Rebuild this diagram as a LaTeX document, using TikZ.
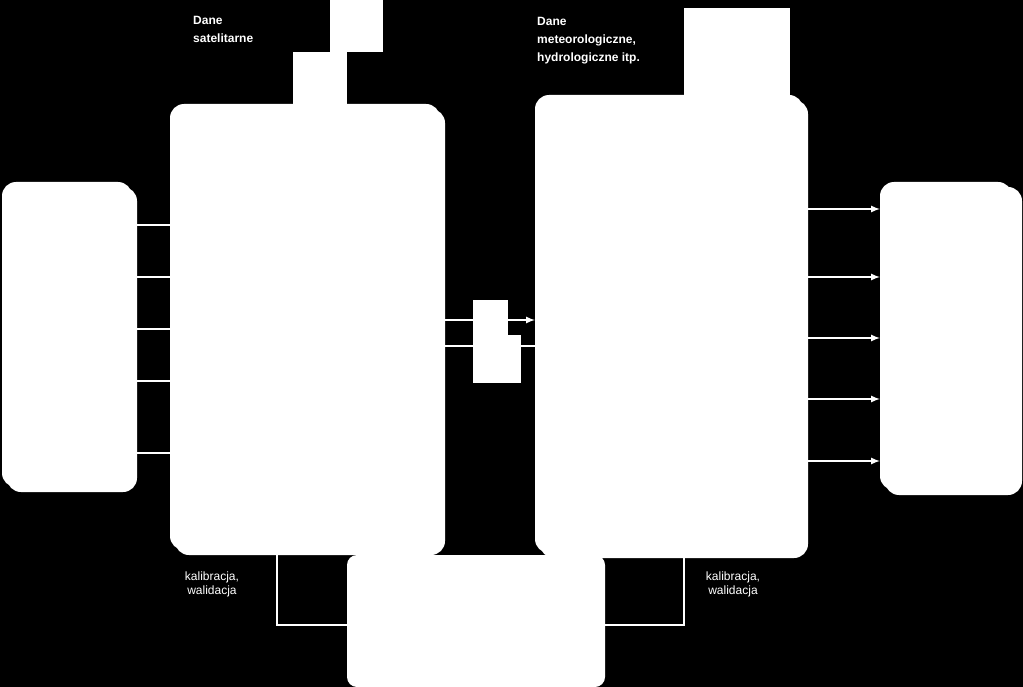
\documentclass[tikz,border=0pt]{standalone}
\usepackage{fontspec}
\setmainfont{Liberation Sans}
\begin{document}
\begin{tikzpicture}[x=1pt,y=-1pt,
  wbox/.style={fill=white,rounded corners=14pt},
  blk/.style={fill=white},
  ln/.style={draw=white,line width=2pt},
  arr/.style={ln,-latex},
  lbl/.style={text=white,font=\fontsize{12}{14}\selectfont,align=left,anchor=north west,inner sep=0pt}]
\fill[black] (0,0) rectangle (1023,687);
\useasboundingbox (0,0) rectangle (1023,687);
% left box
\fill[wbox] (7,187) rectangle (137,492);
\fill[wbox] (2,182) rectangle (132,487);
\coordinate (L) at (137,0);
% big box 1
\fill[wbox] (175,109) rectangle (445,555);
\fill[wbox] (170,104) rectangle (440,550);
% big box 2
\fill[wbox] (540,100) rectangle (808,558);
\fill[wbox] (535,95) rectangle (803,553);
% right box
\fill[wbox] (885,187) rectangle (1022,495);
\fill[wbox] (880,182) rectangle (1012,490);
% bottom box
\fill[wbox,rounded corners=10pt] (347,555) rectangle (605,687);
% top blocks
\fill[blk] (293,52) rectangle (347,104);
\fill[blk] (330,0) rectangle (383,52);
\fill[blk] (684,8) rectangle (790,103);
% texts
\node[lbl,font=\fontsize{12}{18}\selectfont\bfseries] (t1) at (193,16) {Dane\\satelitarne};
\node[lbl,font=\fontsize{12}{18}\selectfont\bfseries] (t2) at (537,17) {Dane\\meteorologiczne,\\hydrologiczne itp.};
\fill[blk] (684,8) rectangle (790,103);
% left lines
\foreach \y in {225,277,329,381,453} \draw[ln] (137,\y) -- (170,\y);
% right arrows
\foreach \y in {209,277,338,399,461} \draw[arr] (808,\y) -- (880,\y);
% middle
\draw[arr] (445,320) -- (535,320);
\draw[ln] (445,346) -- (535,346);
\fill[blk] (473,300) rectangle (508,383);
\fill[blk] (508,335) rectangle (521,383);
% bottom connectors
\draw[ln] (277,555) |- (347,625);
\draw[ln] (684,558) |- (605,625);
\node[lbl,align=center,anchor=north] (k1) at (212,572) {kalibracja,\\walidacja};
\node[lbl,align=center,anchor=north] (k2) at (733,572) {kalibracja,\\walidacja};
\end{tikzpicture}
\end{document}
